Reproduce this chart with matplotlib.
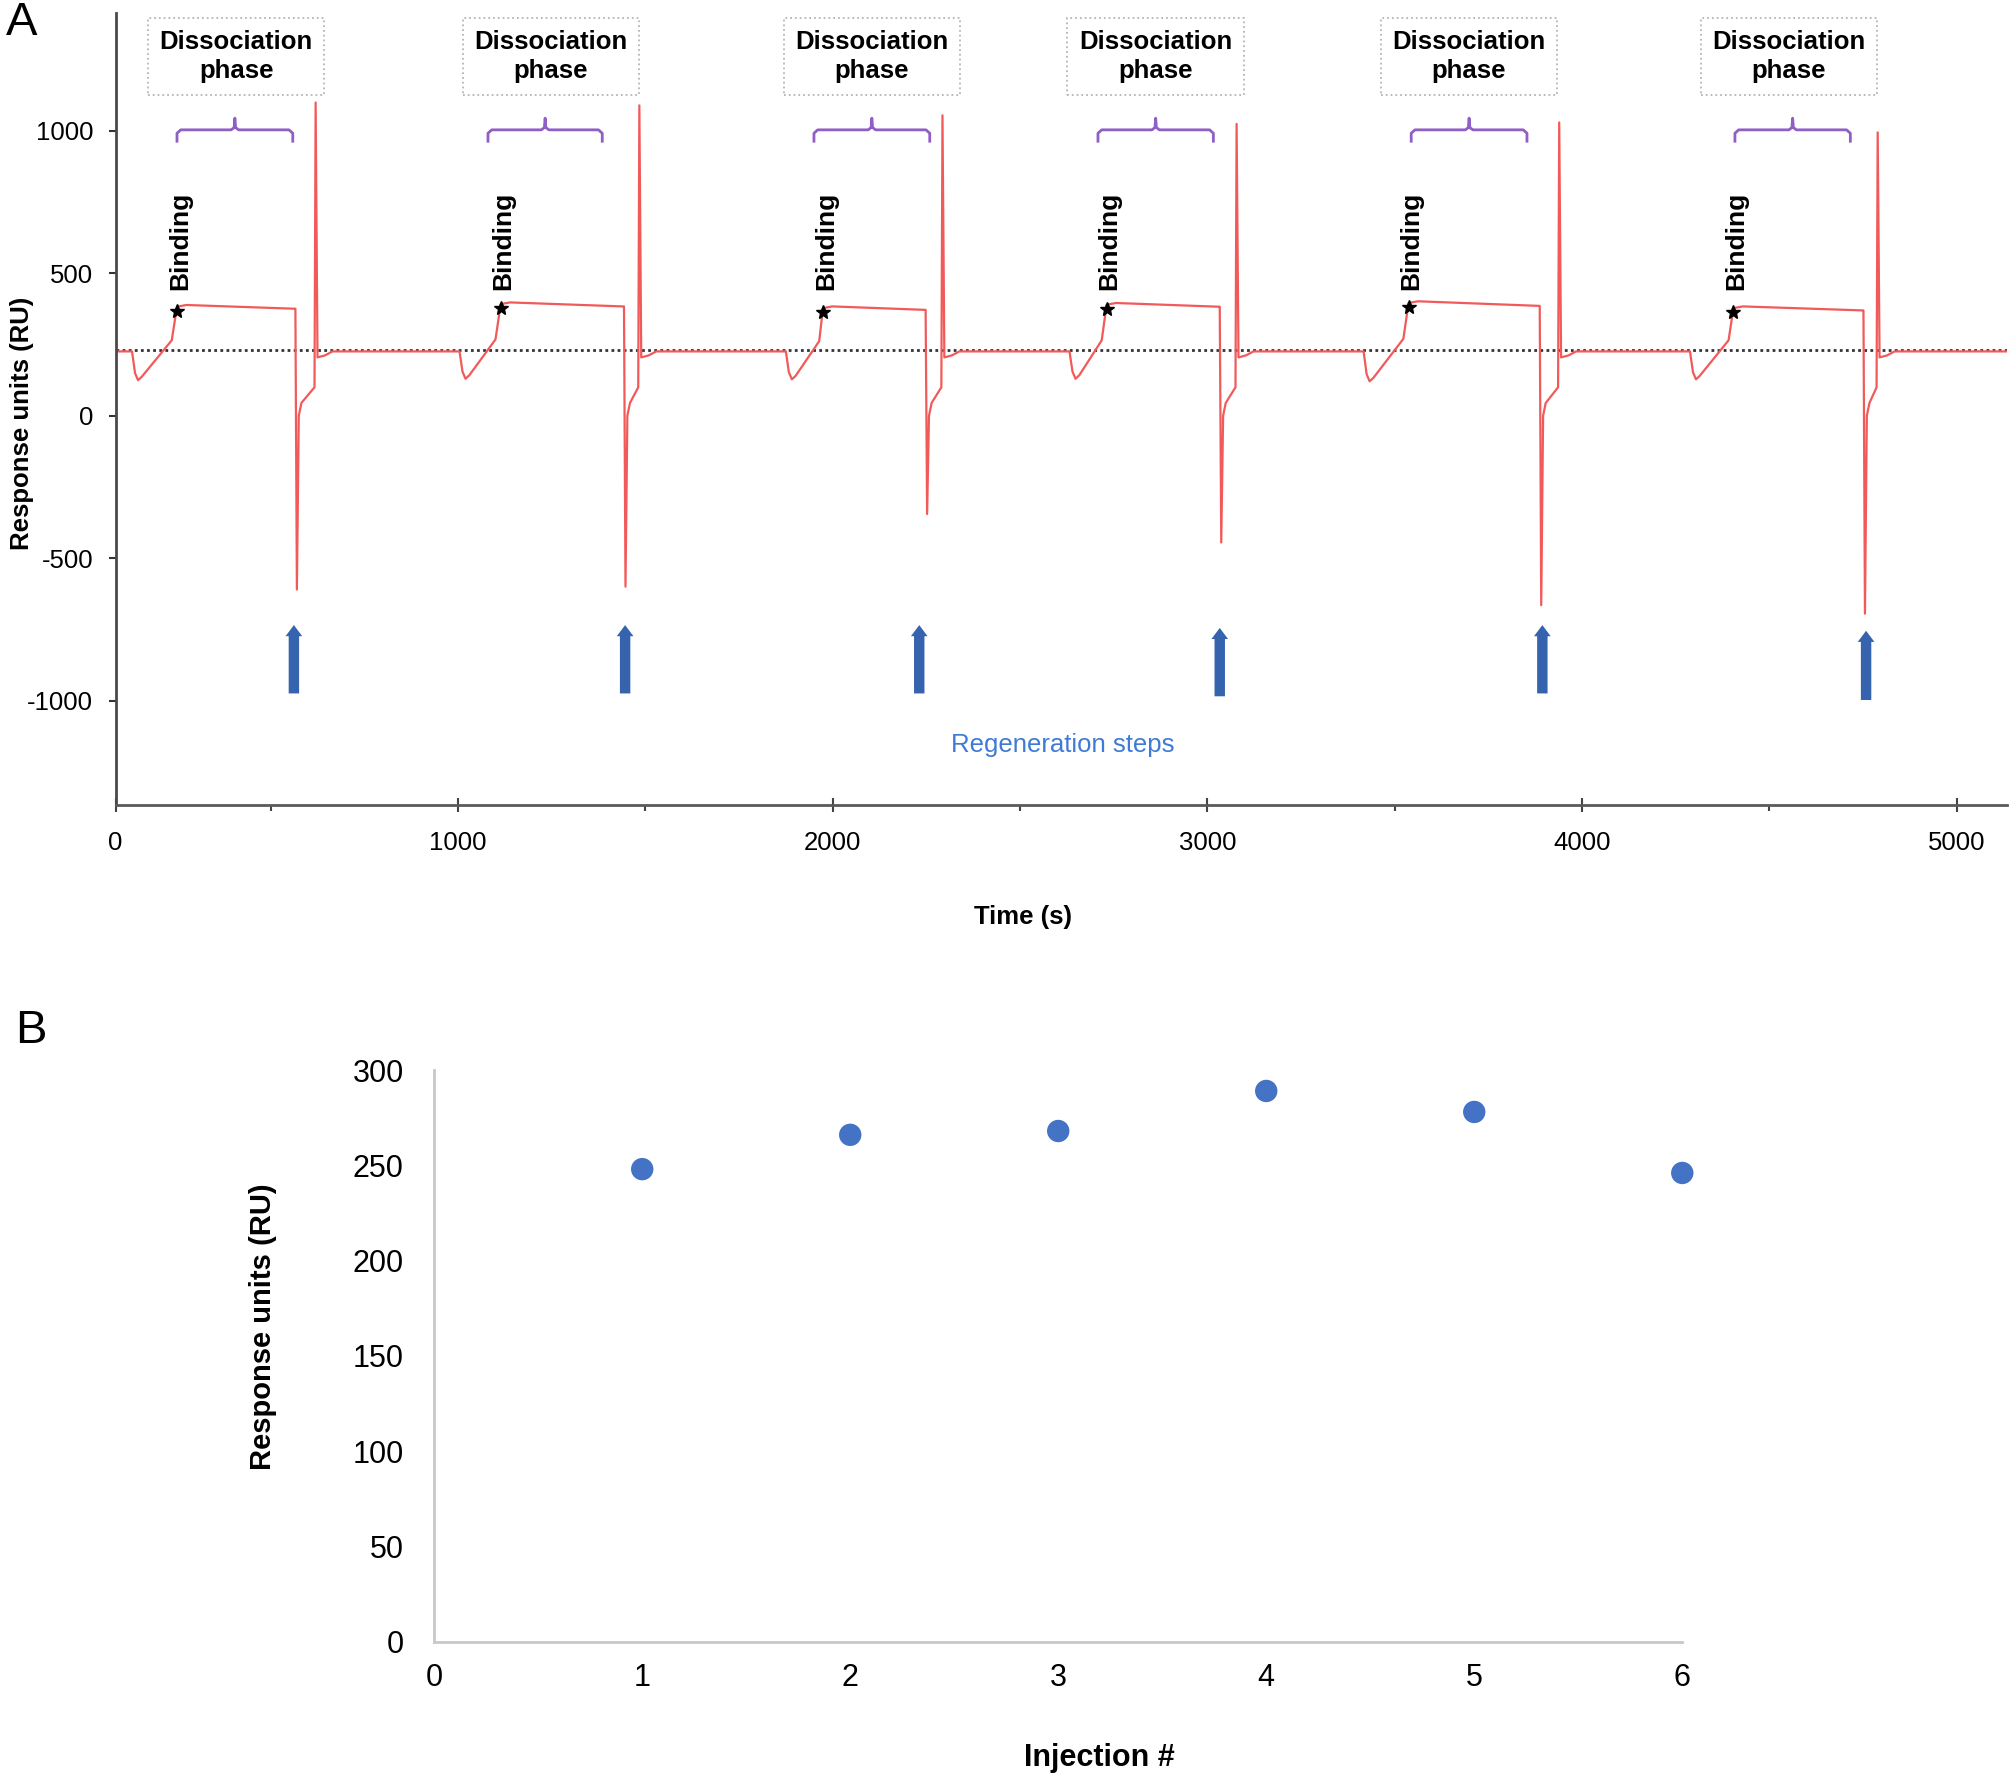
import numpy as np
import matplotlib.pyplot as plt

plt.rcParams['font.family'] = ['Liberation Sans', 'DejaVu Sans']
plt.rcParams['axes.unicode_minus'] = False

# ---- panel A: sensorgram, six injection cycles (time in s, response in RU)
dip_start = [130, 1004, 1875, 2632, 3417, 4288]
dip_min = [125, 130, 128, 130, 121, 128]
rise_end = [236, 1100, 1964, 2718, 3523, 4391]
rise_val = [265, 268, 262, 265, 270, 265]
star_t = [250, 1114, 1974, 2731, 3537, 4404]
plat_start = [383, 392, 378, 390, 396, 378]
plat_end = [376, 384, 372, 383, 386, 370]
drop_t = [566, 1443, 2248, 3033, 3887, 4751]
drop_min = [-610, -600, -345, -445, -665, -695]
spike_t = [620, 1484, 2293, 3078, 3939, 4789]
spike_max = [1100, 1090, 1055, 1025, 1030, 995]
baseline = 226
ref_level = 230
t_end = 5134

brace_start = [250, 1080, 1950, 2708, 3544, 4408]
brace_end = [559, 1385, 2259, 3016, 3853, 4716]
box_t = [408, 1248, 2105, 2862, 3698, 4552]
arrow_t = [562, 1446, 2231, 3033, 3894, 4758]
arrow_tip = [-735, -735, -735, -745, -735, -755]
arrow_tail = [-975, -975, -975, -985, -975, -998]

# ---- panel B: response per injection
injection = [1, 2, 3, 4, 5, 6]
response = [248, 266, 268, 289, 278, 246]

# build the trace from the read values
tt = [86, 87.5, np.nan, 89]
yy = [540, 500, np.nan, baseline]
for i in range(6):
    d = drop_t[i]
    s = spike_t[i]
    tt += [dip_start[i], dip_start[i] + 8, dip_start[i] + 16,
           dip_start[i] + 26, rise_end[i], star_t[i],
           star_t[i] + 25, d - 4, d, d + 4, d + 9, d + 16, s - 3, s, s + 5,
           s + 25, s + 45]
    yy += [baseline, dip_min[i] + 25, dip_min[i], dip_min[i] + 12,
           rise_val[i], plat_start[i],
           plat_start[i] + 6, plat_end[i], plat_end[i], drop_min[i], 0, 45,
           100, spike_max[i], 205, 212, baseline]
tt.append(t_end)
yy.append(baseline)

fig = plt.figure(figsize=(20.13, 17.78), dpi=100)

ax = fig.add_axes([0.0574, 0.5472, 0.9396, 0.4456])
ax.axhline(ref_level, color='#333333', lw=2, ls=(0, (1, 1.2)), zorder=1)
ax.plot(tt, yy, color='#f25a5a', lw=1.6, zorder=2)
ax.plot(star_t, [p - 14 for p in plat_start], ls='none', marker='*',
        color='black', ms=10, zorder=3)

for i in range(6):
    ax.text(star_t[i] + 8, 440, 'Binding', rotation=90, ha='center',
            va='bottom', fontsize=19, fontweight='bold')
    s, e = brace_start[i], brace_end[i]
    m = (s + e) / 2
    bx = [s, s, s + 10, m - 10, m - 2, m, m + 2, m + 10, e - 10, e, e]
    by = [964, 992, 1004, 1004, 1012, 1045, 1012, 1004, 1004, 992, 964]
    ax.plot(bx, by, color='#8f5fc6', lw=2)
    ax.text(box_t[i], 1262, 'Dissociation\nphase', ha='center', va='center',
            fontsize=18.5, fontweight='bold', linespacing=1.3,
            bbox=dict(boxstyle='square,pad=0.45', fc='white',
                      ec='#b5b5b5', ls=':', lw=1.3))
    ax.annotate('', xy=(arrow_t[i], arrow_tip[i]),
                xytext=(arrow_t[i], arrow_tail[i]),
                arrowprops=dict(width=7.5, headwidth=12, headlength=8,
                                color='#3563ae', lw=0))

ax.text(2615, -1155, 'Regeneration steps', ha='center', va='center',
        fontsize=18.5, color='#3f7bd4')

ax.set_xlim(86, t_end)
ax.set_ylim(-1367, 1415)
ax.set_xticks([86, 1000, 2000, 3000, 4000, 5000],
              ['0', '1000', '2000', '3000', '4000', '5000'])
ax.set_xticks([500, 1500, 2500, 3500, 4500], minor=True)
ax.set_yticks([-1000, -500, 0, 500, 1000])
for sp in ['top', 'right']:
    ax.spines[sp].set_visible(False)
ax.spines['left'].set_color('#4a4a4a')
ax.spines['bottom'].set_color('#5a5a5a')
ax.spines['left'].set_linewidth(2)
ax.spines['bottom'].set_linewidth(2)
ax.tick_params(axis='x', which='major', direction='inout', length=10,
               width=1.5, pad=14, labelsize=18.5, color='#444444')
ax.tick_params(axis='x', which='minor', direction='out', length=4,
               width=1.5, color='#444444')
ax.tick_params(axis='y', direction='out', length=5, width=1.5, pad=11,
               labelsize=18.5, color='#333333')

fig.text(0.5084, 0.4843, 'Time (s)', ha='center', va='center',
         fontsize=18.5, fontweight='bold')
fig.text(0.0108, 0.7617, 'Response units (RU)', rotation=90, ha='center',
         va='center', fontsize=18.5, fontweight='bold')
fig.text(0.003, 0.987, 'A', ha='left', va='center', fontsize=34)

# ---- panel B
ax2 = fig.add_axes([0.2157, 0.0765, 0.620, 0.3217])
ax2.scatter(injection, response, s=260, color='#4472c4', zorder=3,
            clip_on=False, edgecolors='none')
ax2.set_xlim(0, 6)
ax2.set_ylim(0, 300)
ax2.set_xticks(range(7))
ax2.set_yticks(range(0, 301, 50))
for sp in ['top', 'right']:
    ax2.spines[sp].set_visible(False)
for sp in ['left', 'bottom']:
    ax2.spines[sp].set_color('#c8c8c8')
    ax2.spines[sp].set_linewidth(2)
ax2.tick_params(axis='both', length=0, labelsize=22)
ax2.tick_params(axis='x', pad=15)
ax2.tick_params(axis='y', pad=22)

fig.text(0.1307, 0.254, 'Response units (RU)', rotation=90, ha='center',
         va='center', fontsize=21, fontweight='bold')
fig.text(0.546, 0.0113, 'Injection #', ha='center', va='center',
         fontsize=22, fontweight='bold')
fig.text(0.0077, 0.42, 'B', ha='left', va='center', fontsize=34)

fig.savefig('out.png', dpi=100)
